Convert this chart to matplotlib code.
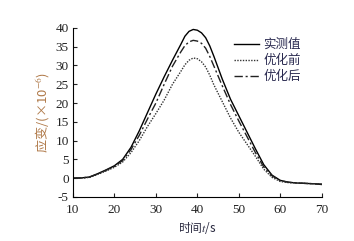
import numpy as np
import matplotlib.pyplot as plt

plt.rcParams['font.family'] = ['Liberation Serif', 'Noto Sans CJK SC']
plt.rcParams['mathtext.fontset'] = 'stix'
plt.rcParams['axes.unicode_minus'] = False

t = [10, 12, 14, 16, 18, 20, 22, 24, 26, 28, 30, 32, 34, 36, 37, 38, 39, 40,
     41, 42, 43, 44, 46, 48, 50, 52, 54, 56, 58, 60, 62, 64, 66, 68, 70]
measured = [0, 0.05, 0.3, 1.2, 2.2, 3.3, 5.0, 8.2, 12.6, 17.5, 22.4, 27.0,
            31.4, 35.6, 37.8, 39.1, 39.6, 39.4, 38.7, 37.4, 35.2, 32.4, 26.4,
            21.0, 16.6, 12.2, 7.8, 3.6, 0.8, -0.6, -1.1, -1.3, -1.4, -1.5, -1.7]
before = [0, 0.0, 0.2, 1.0, 1.9, 2.9, 4.3, 6.8, 10.0, 13.8, 17.2, 20.8,
          25.0, 28.4, 30.2, 31.4, 32.0, 31.8, 31.0, 29.6, 27.4, 24.8, 20.4,
          16.0, 12.2, 9.0, 5.8, 2.4, 0.2, -0.9, -1.2, -1.3, -1.4, -1.5, -1.6]
after = [0, 0.05, 0.3, 1.1, 2.1, 3.1, 4.7, 7.6, 11.4, 15.8, 20.0, 25.0,
         29.8, 33.6, 35.3, 36.3, 36.7, 36.5, 35.9, 34.6, 32.4, 29.8, 24.6,
         19.6, 15.2, 11.0, 6.8, 3.0, 0.6, -0.7, -1.1, -1.3, -1.4, -1.5, -1.6]
labels = ['实测值', '优化前', '优化后']

cjk = ['Noto Sans CJK SC', 'DejaVu Sans']

fig = plt.figure(figsize=(3.54, 2.41), dpi=100)
ax = fig.add_axes([0.206, 0.183, 0.703, 0.701])

ax.plot(t, measured, color='black', lw=1.0, label=labels[0])
ax.plot(t, before, color='#333333', lw=1.0, ls=(0, (1, 1)), label=labels[1])
ax.plot(t, after, color='#222222', lw=1.0, ls=(0, (6, 2, 1.5, 2)), label=labels[2])

ax.set_xlim(10, 70)
ax.set_ylim(-5, 40)
ax.set_xticks(np.arange(10, 71, 10))
ax.set_yticks(np.arange(-5, 41, 5))
ax.spines['top'].set_visible(False)
ax.spines['right'].set_visible(False)
ax.tick_params(direction='in', length=3, width=0.8, labelsize=9.5,
               colors='#222222')
ax.tick_params(axis='x', pad=5)
ax.tick_params(axis='y', pad=3)
for s in ['left', 'bottom']:
    ax.spines[s].set_linewidth(0.8)

ax.set_xlabel('时间$t$/s', fontsize=8.5, family=cjk, color='#2a2a40', labelpad=3)
ax.set_ylabel('应变/(×10$^{-6}$)', fontsize=9.5, family=cjk, color='#b07a4a', labelpad=3)

leg = ax.legend(loc='upper right', bbox_to_anchor=(0.935, 0.97), frameon=False,
                prop={'family': cjk, 'size': 9}, handlelength=2.0,
                handletextpad=0.3, labelspacing=0.25, borderaxespad=0)
for txt in leg.get_texts():
    txt.set_color('#2a2a50')

fig.savefig('out.png', dpi=100)
